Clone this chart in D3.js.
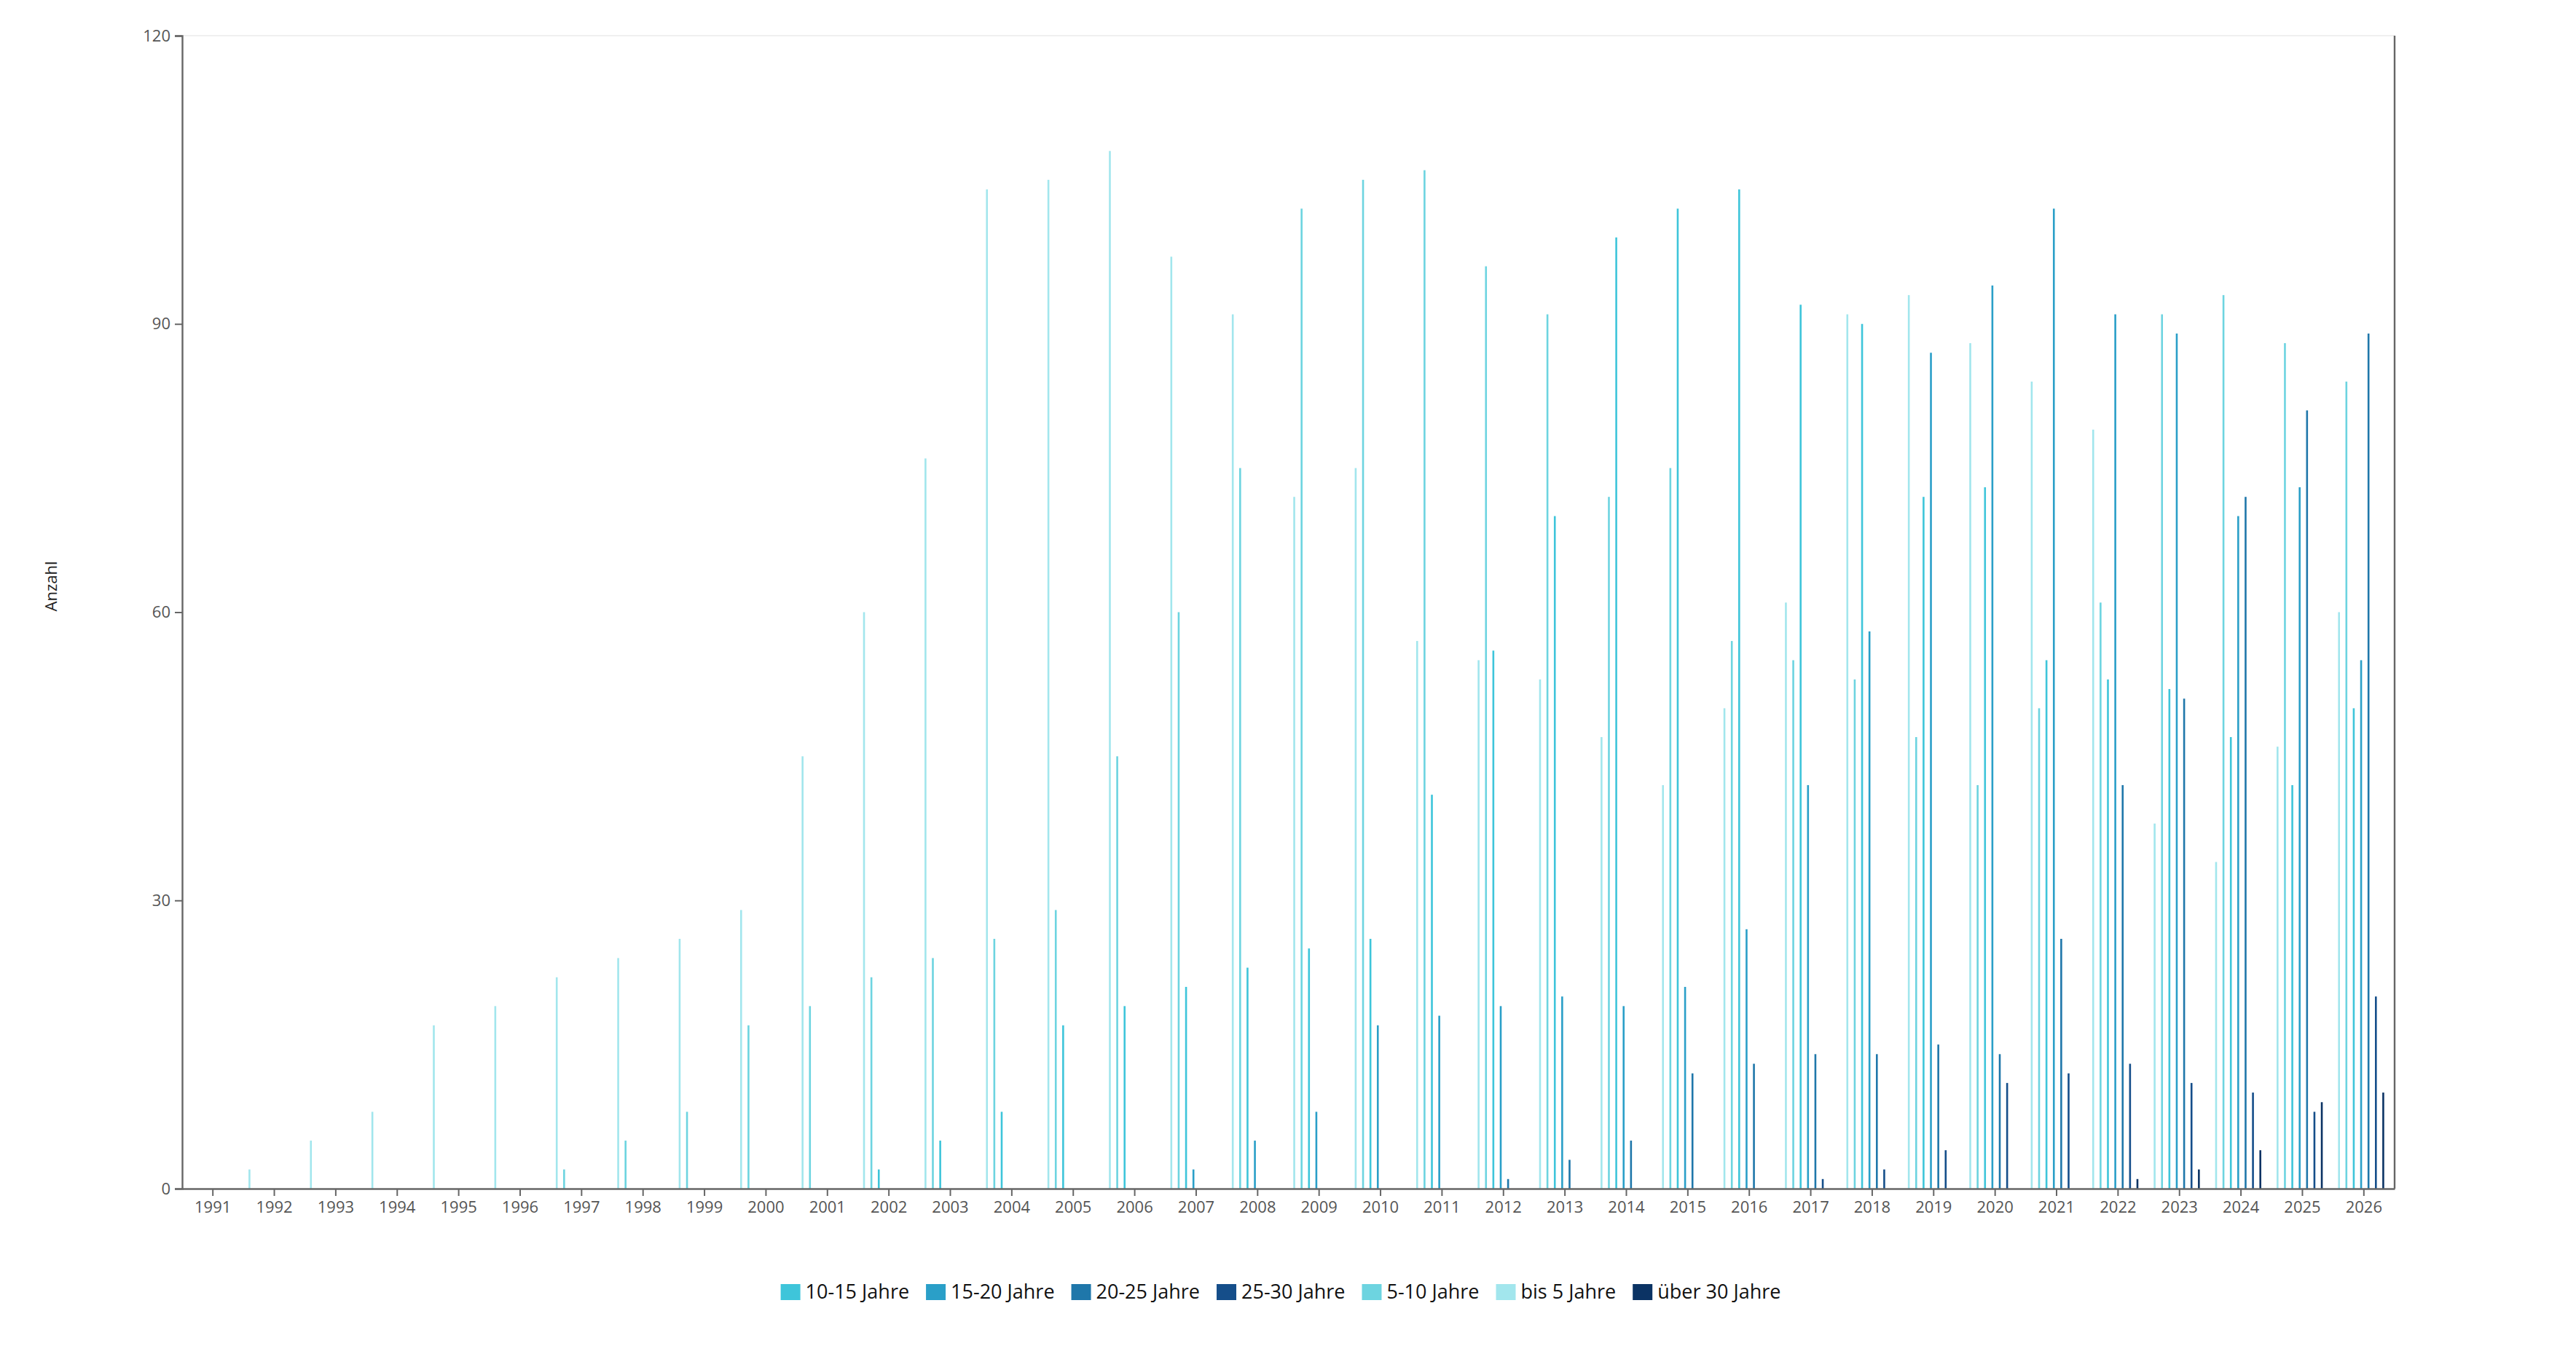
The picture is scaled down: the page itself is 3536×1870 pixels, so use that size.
<!DOCTYPE html>
<html>
<head>
<meta charset="utf-8">
<script src="https://cdn.jsdelivr.net/npm/d3@7"></script>
<style>
  html, body { margin: 0; padding: 0; background: #fff; }
  #vis { width: 3536px; height: 1870px; }
</style>
</head>
<body>
<div id="vis"></div>
<script>
const years = d3.range(1991, 2027).map(String)

// series in drawing order (youngest to oldest)
const seriesKeys = ["bis 5 Jahre", "5-10 Jahre", "10-15 Jahre", "15-20 Jahre", "20-25 Jahre", "25-30 Jahre", "über 30 Jahre"]
// legend order is alphabetical like in the original
const legendKeys = ["10-15 Jahre", "15-20 Jahre", "20-25 Jahre", "25-30 Jahre", "5-10 Jahre", "bis 5 Jahre", "über 30 Jahre"]

const bis5 =    [0, 2, 5, 8, 17, 19, 22, 24, 26, 29, 45, 60, 76, 104, 105, 108, 97, 91, 72, 75, 57, 55, 53, 47, 42, 50, 61, 91, 93, 88, 84, 79, 38, 34, 46, 60]
const j5_10 =   [0, 0, 0, 0, 0, 0, 2, 5, 8, 17, 19, 22, 24, 26, 29, 45, 60, 75, 102, 105, 106, 96, 91, 72, 75, 57, 55, 53, 47, 42, 50, 61, 91, 93, 88, 84]
const j10_15 =  [0, 0, 0, 0, 0, 0, 0, 0, 0, 0, 0, 2, 5, 8, 17, 19, 21, 23, 25, 26, 41, 56, 70, 99, 102, 104, 92, 90, 72, 73, 55, 53, 52, 47, 42, 50]
const j15_20 =  [0, 0, 0, 0, 0, 0, 0, 0, 0, 0, 0, 0, 0, 0, 0, 0, 2, 5, 8, 17, 18, 19, 20, 19, 21, 27, 42, 58, 87, 94, 102, 91, 89, 70, 73, 55]
const j20_25 =  [0, 0, 0, 0, 0, 0, 0, 0, 0, 0, 0, 0, 0, 0, 0, 0, 0, 0, 0, 0, 0, 1, 3, 5, 12, 13, 14, 14, 15, 14, 26, 42, 51, 72, 81, 89]
const j25_30 =  [0, 0, 0, 0, 0, 0, 0, 0, 0, 0, 0, 0, 0, 0, 0, 0, 0, 0, 0, 0, 0, 0, 0, 0, 0, 0, 1, 2, 4, 11, 12, 13, 11, 10, 8, 20]
const ueber30 = [0, 0, 0, 0, 0, 0, 0, 0, 0, 0, 0, 0, 0, 0, 0, 0, 0, 0, 0, 0, 0, 0, 0, 0, 0, 0, 0, 0, 0, 0, 0, 1, 2, 4, 9, 10]

const yTicks = [0, 30, 60, 90, 120]

const colours = {
  "bis 5 Jahre": "#a2e6ed",
  "5-10 Jahre": "#6dd4e0",
  "10-15 Jahre": "#3ec5da",
  "15-20 Jahre": "#2a9fc8",
  "20-25 Jahre": "#1f77aa",
  "25-30 Jahre": "#154e8a",
  "über 30 Jahre": "#0b3364"
}

const valuesBySeries = {
  "bis 5 Jahre": bis5,
  "5-10 Jahre": j5_10,
  "10-15 Jahre": j10_15,
  "15-20 Jahre": j15_20,
  "20-25 Jahre": j20_25,
  "25-30 Jahre": j25_30,
  "über 30 Jahre": ueber30
}

// one row per year/series
const shapedData = years.reduce((acc, year, i) => {
  return acc.concat(seriesKeys.map(key => ({ year: year, key: key, value: valuesBySeries[key][i] })))
}, [])

const width = 3536
const height = 1870
const margin = ({ top: 49, right: 249, bottom: 238, left: 250 })
const font = "'Open Sans', 'Noto Sans', sans-serif"

const x0 = d3.scaleBand()
  .domain(years)
  .range([margin.left, width - margin.right])
  .paddingInner(0.16)
  .paddingOuter(0.08)

const x1 = d3.scaleBand()
  .domain(seriesKeys)
  .range([0, x0.bandwidth()])

const y = d3.scaleLinear()
  .domain([0, 120])
  .range([height - margin.bottom, margin.top])

const svg = d3.select("#vis").append("svg")
  .attr("width", width)
  .attr("height", height)
  .attr("font-family", font)

// top border line
svg.append("line")
  .attr("x1", margin.left).attr("x2", width - margin.right)
  .attr("y1", y(120)).attr("y2", y(120))
  .attr("stroke", "#f0f0f0")
  .attr("stroke-width", 2)

// bars
svg.append("g")
  .selectAll("rect")
  .data(shapedData.filter(d => d.value > 0))
  .join("rect")
  .attr("x", d => x0(d.year) + x1(d.key))
  .attr("y", d => y(d.value))
  .attr("width", 2.6)
  .attr("height", d => y(0) - y(d.value))
  .attr("fill", d => colours[d.key])

// right border line
svg.append("line")
  .attr("x1", width - margin.right).attr("x2", width - margin.right)
  .attr("y1", y(120)).attr("y2", y(0))
  .attr("stroke", "#666")
  .attr("stroke-width", 2.4)

// x axis
svg.append("g")
  .attr("transform", `translate(0,${y(0)})`)
  .call(d3.axisBottom(x0).tickSize(10).tickPadding(7).tickSizeOuter(0))
  .call(g => g.select(".domain").attr("stroke", "#666").attr("stroke-width", 2.4))
  .call(g => g.selectAll(".tick line").attr("stroke", "#666").attr("stroke-width", 2))
  .call(g => g.selectAll(".tick text")
    .attr("fill", "#555")
    .attr("font-size", 22)
    .attr("font-family", font)
  )

// y axis
svg.append("g")
  .attr("transform", `translate(${margin.left},0)`)
  .call(d3.axisLeft(y).tickValues(yTicks).tickSize(10).tickPadding(6))
  .call(g => g.select(".domain").attr("stroke", "#666").attr("stroke-width", 2.4))
  .call(g => g.selectAll(".tick line").attr("stroke", "#666").attr("stroke-width", 2))
  .call(g => g.selectAll(".tick text")
    .attr("fill", "#555")
    .attr("font-size", 22)
    .attr("font-family", font)
  )

// y axis title
svg.append("text")
  .attr("transform", "translate(78,805) rotate(-90)")
  .attr("text-anchor", "middle")
  .attr("font-size", 22)
  .attr("fill", "#222")
  .text("Anzahl")

// legend, laid out left to right and then centred
const legend = svg.append("g")
let cursor = 0
legendKeys.forEach(key => {
  const item = legend.append("g").attr("transform", `translate(${cursor},0)`)
  item.append("rect")
    .attr("x", 0).attr("y", -11)
    .attr("width", 27).attr("height", 22)
    .attr("fill", colours[key])
  const label = item.append("text")
    .attr("x", 34)
    .attr("dy", "0.35em")
    .attr("font-size", 27)
    .attr("fill", "#111")
    .text(key)
  cursor += 34 + label.node().getComputedTextLength() + 23
})
const legendWidth = cursor - 23
legend.attr("transform", `translate(${1758 - legendWidth / 2},1774)`)
</script>
</body>
</html>
